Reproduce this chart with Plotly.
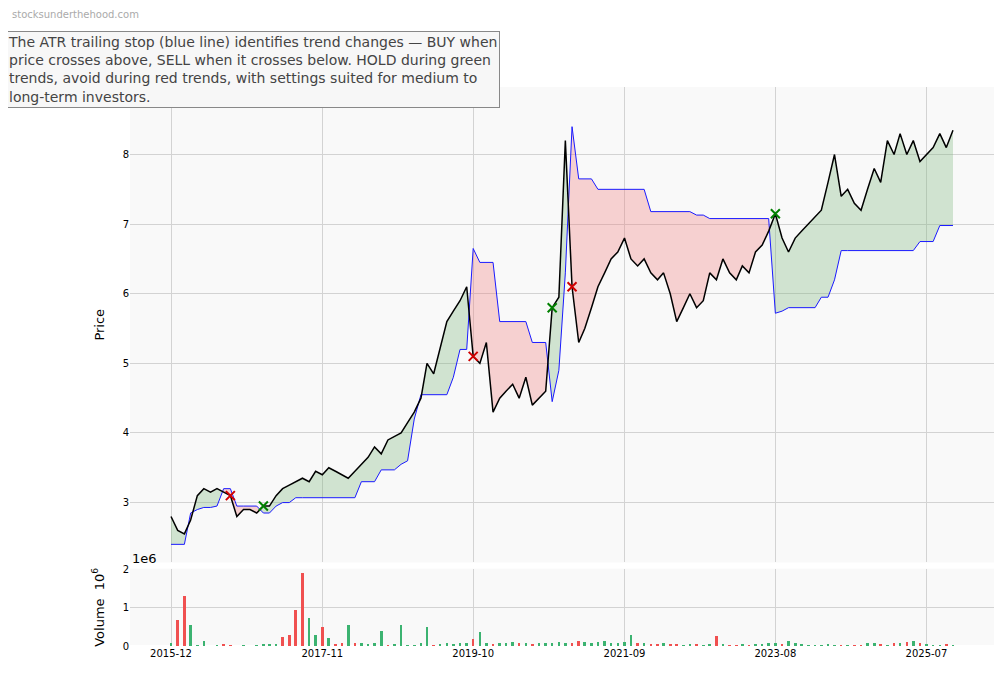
import pandas as pd
import plotly.graph_objects as go
from plotly.subplots import make_subplots

# monthly samples from 2015-12
dates = pd.date_range("2015-12-01", periods=120, freq="MS")

price = [
    2.8, 2.6, 2.55, 2.75, 3.1, 3.2, 3.15, 3.2, 3.15, 3.1,
    2.8, 2.9, 2.9, 2.85, 2.95, 2.95, 3.1, 3.2, 3.25, 3.3,
    3.35, 3.3, 3.45, 3.4, 3.5, 3.45, 3.4, 3.35, 3.45, 3.55,
    3.65, 3.8, 3.7, 3.9, 3.95, 4.0, 4.15, 4.3, 4.5, 5.0,
    4.85, 5.2, 5.6, 5.75, 5.9, 6.1, 5.1, 5.0, 5.3, 4.3,
    4.5, 4.6, 4.7, 4.5, 4.8, 4.4, 4.5, 4.6, 5.8, 5.95,
    8.2, 6.1, 5.3, 5.5, 5.8, 6.1, 6.3, 6.5, 6.6, 6.8,
    6.5, 6.4, 6.5, 6.3, 6.2, 6.3, 6.0, 5.6, 5.8, 6.0,
    5.8, 5.9, 6.3, 6.2, 6.5, 6.3, 6.2, 6.4, 6.3, 6.6,
    6.7, 6.9, 7.15, 6.8, 6.6, 6.8, 6.9, 7.0, 7.1, 7.2,
    7.6, 8.0, 7.4, 7.5, 7.3, 7.2, 7.5, 7.8, 7.6, 8.2,
    8.0, 8.3, 8.0, 8.2, 7.9, 8.0, 8.1, 8.3, 8.1, 8.35,
]

stop = [
    2.4, 2.4, 2.4, 2.85, 2.9, 2.93, 2.93, 2.95, 3.2, 3.2,
    2.95, 2.95, 2.95, 2.95, 2.85, 2.85, 2.95, 3.0, 3.0, 3.07,
    3.07, 3.07, 3.07, 3.07, 3.07, 3.07, 3.07, 3.07, 3.07, 3.3,
    3.3, 3.3, 3.47, 3.47, 3.47, 3.55, 3.6, 4.2, 4.55, 4.55,
    4.55, 4.55, 4.55, 4.8, 5.2, 5.2, 6.65, 6.45, 6.45, 6.45,
    5.6, 5.6, 5.6, 5.6, 5.6, 5.3, 5.3, 5.3, 4.45, 4.9,
    6.3, 8.4, 7.65, 7.65, 7.65, 7.5, 7.5, 7.5, 7.5, 7.5,
    7.5, 7.5, 7.5, 7.18, 7.18, 7.18, 7.18, 7.18, 7.18, 7.18,
    7.13, 7.13, 7.08, 7.08, 7.08, 7.08, 7.08, 7.08, 7.08, 7.08,
    7.08, 7.08, 5.72, 5.75, 5.8, 5.8, 5.8, 5.8, 5.8, 5.95,
    5.95, 6.2, 6.62, 6.62, 6.62, 6.62, 6.62, 6.62, 6.62, 6.62,
    6.62, 6.62, 6.62, 6.62, 6.75, 6.75, 6.75, 6.98, 6.98, 6.98,
]

# volume in millions, with up/down colour flag
volume = [
    0.1, 0.7, 1.32, 0.55, 0.02, 0.15, 0.01, 0.02, 0.05, 0.03,
    0.01, 0.02, 0.01, 0.02, 0.05, 0.06, 0.05, 0.25, 0.3, 0.95,
    1.92, 0.75, 0.3, 0.5, 0.22, 0.05, 0.08, 0.55, 0.1, 0.08,
    0.05, 0.1, 0.4, 0.03, 0.05, 0.55, 0.02, 0.03, 0.1, 0.5,
    0.04, 0.06, 0.08, 0.05, 0.1, 0.08, 0.2, 0.38, 0.08, 0.05,
    0.08, 0.1, 0.12, 0.08, 0.1, 0.06, 0.1, 0.08, 0.1, 0.12,
    0.08, 0.1, 0.15, 0.12, 0.1, 0.12, 0.15, 0.08, 0.1, 0.12,
    0.3, 0.08, 0.1, 0.06, 0.05, 0.08, 0.06, 0.05, 0.04, 0.06,
    0.05, 0.04, 0.05, 0.28, 0.05, 0.03, 0.04, 0.05, 0.04, 0.06,
    0.05, 0.1, 0.08, 0.05, 0.15, 0.08, 0.05, 0.04, 0.03, 0.02,
    0.05, 0.03, 0.04, 0.02, 0.03, 0.02, 0.08, 0.1, 0.05, 0.03,
    0.1, 0.08, 0.12, 0.15, 0.1, 0.05, 0.03, 0.02, 0.05, 0.03,
]
vol_up = [
    1, 0, 0, 1, 1, 1, 0, 1, 0, 0,
    0, 1, 0, 1, 1, 1, 1, 0, 0, 0,
    0, 1, 1, 0, 1, 0, 0, 1, 0, 1,
    1, 1, 1, 0, 1, 1, 1, 1, 1, 1,
    0, 1, 1, 1, 1, 1, 0, 1, 1, 0,
    1, 1, 1, 0, 1, 0, 1, 1, 1, 1,
    1, 0, 0, 1, 1, 1, 1, 1, 1, 1,
    1, 0, 1, 0, 0, 1, 0, 0, 1, 1,
    0, 1, 1, 0, 1, 0, 0, 1, 0, 1,
    1, 1, 1, 0, 1, 1, 1, 1, 1, 1,
    1, 1, 0, 1, 0, 0, 1, 1, 0, 1,
    0, 1, 0, 1, 0, 1, 1, 1, 0, 1,
]

buy_idx = [14, 58, 92]
sell_idx = [9, 46, 61]

GREEN_FILL = "rgba(120,180,120,0.32)"
RED_FILL = "rgba(240,120,120,0.32)"

fig = make_subplots(rows=2, cols=1, shared_xaxes=True, row_heights=[0.86, 0.14], vertical_spacing=0.011)

# split into trend segments, cutting at the price/stop crossing points
ts = [d.value for d in dates]
segments = []
cur_x, cur_s, cur_p = [ts[0]], [stop[0]], [price[0]]
up = price[0] >= stop[0]
for i in range(1, len(price)):
    now_up = price[i] >= stop[i]
    if now_up != up:
        d0 = price[i - 1] - stop[i - 1]
        d1 = price[i] - stop[i]
        t = d0 / (d0 - d1)
        cx = ts[i - 1] + t * (ts[i] - ts[i - 1])
        cy = stop[i - 1] + t * (stop[i] - stop[i - 1])
        cur_x.append(cx); cur_s.append(cy); cur_p.append(cy)
        segments.append((cur_x, cur_s, cur_p, up))
        cur_x, cur_s, cur_p = [cx], [cy], [cy]
        up = now_up
    cur_x.append(ts[i]); cur_s.append(stop[i]); cur_p.append(price[i])
segments.append((cur_x, cur_s, cur_p, up))

for xs, ss, ps, is_up in segments:
    xd = pd.to_datetime(xs)
    fig.add_trace(go.Scatter(x=xd, y=ss, mode="lines", line=dict(width=0), showlegend=False, hoverinfo="skip"), row=1, col=1)
    fig.add_trace(go.Scatter(x=xd, y=ps, mode="lines", line=dict(width=0), fill="tonexty",
                             fillcolor=GREEN_FILL if is_up else RED_FILL, showlegend=False, hoverinfo="skip"), row=1, col=1)

fig.add_trace(go.Scatter(x=dates, y=stop, mode="lines", line=dict(color="#1a1aff", width=1), name="ATR stop"), row=1, col=1)
fig.add_trace(go.Scatter(x=dates, y=price, mode="lines", line=dict(color="black", width=1.5), name="Price"), row=1, col=1)
fig.add_trace(go.Scatter(x=[dates[i] for i in buy_idx], y=[price[i] for i in buy_idx], mode="markers",
                         marker=dict(symbol="x-thin", size=9, line=dict(width=2, color="green")), name="BUY"), row=1, col=1)
fig.add_trace(go.Scatter(x=[dates[i] for i in sell_idx], y=[price[i] for i in sell_idx], mode="markers",
                         marker=dict(symbol="x-thin", size=9, line=dict(width=2, color="#d00000")), name="SELL"), row=1, col=1)

fig.add_trace(go.Bar(x=dates, y=volume, marker_color=["#3cb371" if u else "#f05050" for u in vol_up],
                     marker_line_width=0, width=12 * 24 * 3600 * 1000, name="Volume"), row=2, col=1)

tickvals = ["2015-12-01", "2017-11-01", "2019-10-01", "2021-09-01", "2023-08-01", "2025-07-01"]
for r in (1, 2):
    fig.update_xaxes(range=["2015-05-25", "2026-05-10"], showgrid=True, gridcolor="#d3d3d3",
                     tickvals=tickvals, ticktext=[t[:7] for t in tickvals], showline=False,
                     automargin=False, tickfont=dict(size=10), row=r, col=1)
fig.update_yaxes(range=[2.14, 8.97], dtick=1, gridcolor="#d3d3d3", title_text="Price", automargin=False,
                 title_font=dict(size=13), tickfont=dict(size=10), row=1, col=1)
fig.update_yaxes(range=[0, 2.02], tickvals=[0, 1, 2], gridcolor="#d3d3d3", title_text="Volume  10<sup>6</sup>",
                 automargin=False, title_font=dict(size=13), tickfont=dict(size=10), row=2, col=1)

# page body adds an 8px offset, so the figure is a bit smaller than the window
fig.update_layout(
    width=996, height=670,
    margin=dict(l=122, r=10, t=79, b=32, autoexpand=False),
    plot_bgcolor="#f9f9f9", paper_bgcolor="white",
    showlegend=False, bargap=0,
    font=dict(family="DejaVu Sans", color="black"),
)
fig.add_annotation(xref="paper", yref="paper", x=0.0, y=0.14, text="1e6", showarrow=False,
                   xanchor="left", yanchor="bottom", font=dict(size=13))
fig.add_annotation(xref="paper", yref="paper", x=-0.139, y=1.143, text="stocksunderthehood.com", showarrow=False,
                   xanchor="left", yanchor="top", font=dict(size=10, color="#aaaaaa"))
fig.add_annotation(
    xref="paper", yref="paper", x=-0.145, y=1.1, xanchor="left", yanchor="top", align="left", showarrow=False,
    text=("The ATR trailing stop (blue line) identifies trend changes — BUY when<br>"
          "price crosses above, SELL when it crosses below. HOLD during green<br>"
          "trends, avoid during red trends, with settings suited for medium to<br>"
          "long-term investors."),
    font=dict(size=14, color="#444444"), bgcolor="#f7f7f7", bordercolor="#888888", borderwidth=1, borderpad=2,
)

fig.write_html("out.html")
